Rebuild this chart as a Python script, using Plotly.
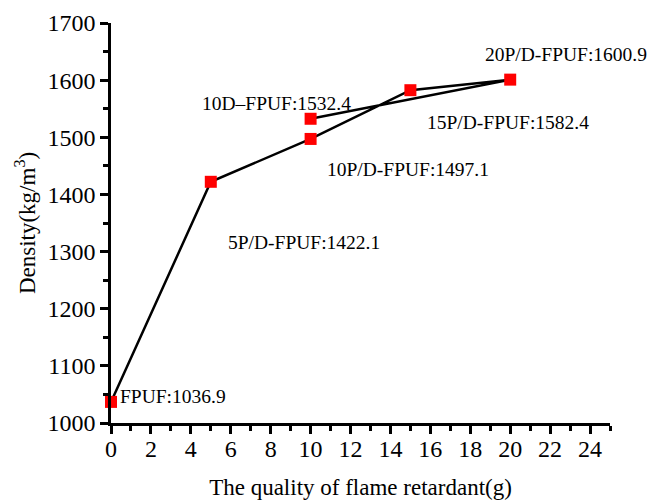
import plotly.graph_objects as go

# data (path order as drawn)
x_vals = [0, 5, 10, 15, 20, 10]
y_vals = [1036.9, 1422.1, 1497.1, 1582.4, 1600.9, 1532.4]
labels = ["FPUF:1036.9", "5P/D-FPUF:1422.1", "10P/D-FPUF:1497.1",
          "15P/D-FPUF:1582.4", "20P/D-FPUF:1600.9", "10D\u2013FPUF:1532.4"]
x_ticks = list(range(0, 25, 2))
y_ticks = list(range(1000, 1701, 100))

# label placement (data coords) and anchors
lab_pos = [(0.35, 1047, "left"), (9.65, 1316, "center"), (14.9, 1443, "center"),
           (19.9, 1526, "center"), (22.8, 1645, "center"), (8.3, 1559, "center")]

FONT = "Liberation Serif, Times New Roman, serif"

fig = go.Figure()
fig.add_trace(go.Scatter(
    x=x_vals, y=y_vals, mode="lines+markers",
    line=dict(color="black", width=2.5),
    marker=dict(symbol="square", size=12, color="#ff0000", line=dict(width=0)),
    cliponaxis=False, showlegend=False))

for lab, (ax, ay, anc) in zip(labels, lab_pos):
    fig.add_annotation(x=ax, y=ay, text=lab, showarrow=False, xanchor=anc,
                       yanchor="middle", font=dict(family=FONT, size=19.5, color="black"))

axis_common = dict(showline=True, linecolor="black", linewidth=2.5, ticks="outside",
                   ticklen=8, tickwidth=2.5, tickcolor="black", showgrid=False,
                   zeroline=False, mirror=False, automargin=False,
                   tickfont=dict(family=FONT, size=24, color="black"))

fig.update_xaxes(range=[0, 25], tickvals=x_ticks, ticklabelstandoff=-6,
                 minor=dict(ticks="outside", ticklen=5, tickwidth=2.5, tickcolor="black", dtick=1, tick0=0),
                 title=dict(text="The quality of flame retardant(g)", font=dict(family=FONT, size=23, color="black"), standoff=29),
                 **axis_common)
fig.update_yaxes(range=[1000, 1700], tickvals=y_ticks,
                 minor=dict(ticks="outside", ticklen=5, tickwidth=2.5, tickcolor="black", dtick=50, tick0=1000),
                 title=dict(text="Density(kg/m<sup>3</sup>)", font=dict(family=FONT, size=23, color="black"), standoff=6),
                 **axis_common)

# page body has an 8px margin, so the figure is shrunk and shifted accordingly
fig.update_layout(width=649, height=492, plot_bgcolor="white", paper_bgcolor="white",
                  margin=dict(l=103, r=47, t=15, b=77))

fig.write_html("out.html")
